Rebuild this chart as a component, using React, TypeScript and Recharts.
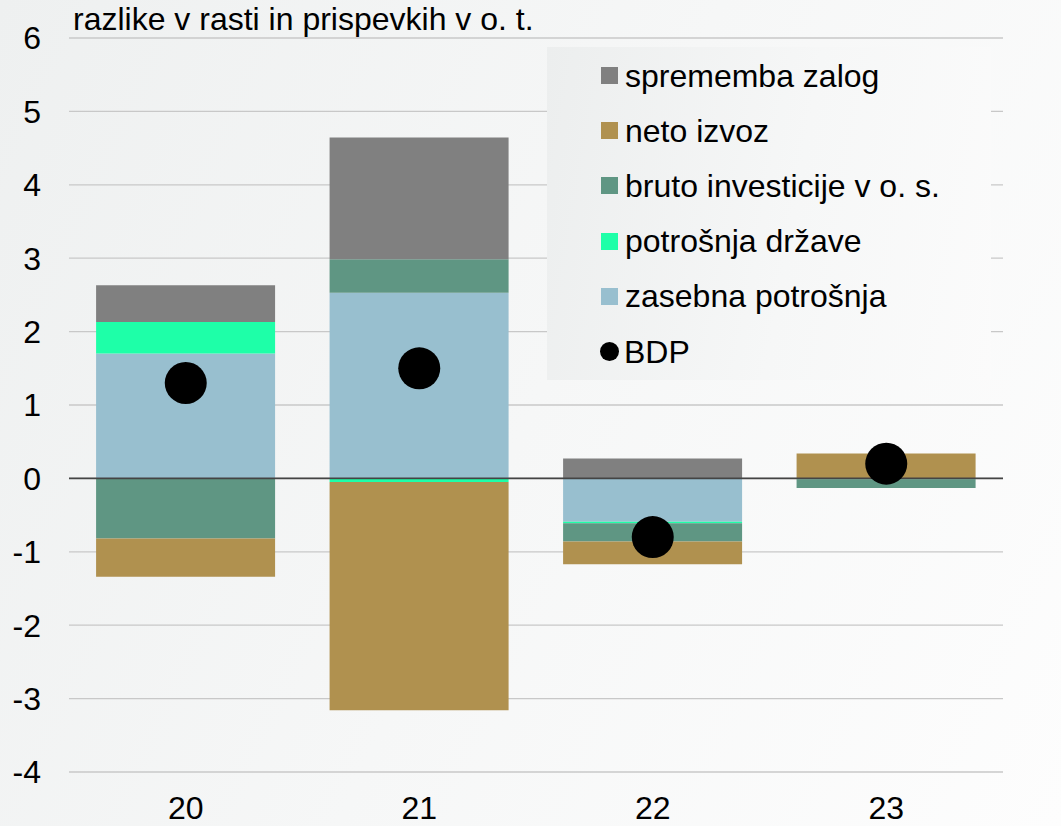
import React from 'react';
import {
  ComposedChart,
  Bar,
  Line,
  XAxis,
  YAxis,
  CartesianGrid,
  ReferenceLine,
  Legend,
} from 'recharts';

const categories = ['20', '21', '22', '23'];
const zasebnaPotrosnja = [1.7, 2.53, -0.59, 0];
const potrosnjaDrzave = [0.43, -0.05, -0.02, -0.01];
const brutoInvesticije = [-0.82, 0.455, -0.25, -0.12];
const netoIzvoz = [-0.52, -3.11, -0.31, 0.34];
const spremembaZalog = [0.5, 1.66, 0.27, 0];
const bdp = [1.3, 1.5, -0.8, 0.2];
const yTicks = [-4, -3, -2, -1, 0, 1, 2, 3, 4, 5, 6];

const titleText = 'razlike v rasti in prispevkih v o. t.';

const seriesNames = {
  zasebna: 'zasebna potrošnja',
  drzava: 'potrošnja države',
  investicije: 'bruto investicije v o. s.',
  izvoz: 'neto izvoz',
  zaloge: 'sprememba zalog',
  bdp: 'BDP',
};

const colors = {
  zasebna: '#98BFCF',
  drzava: '#1EFFA8',
  investicije: '#5F9683',
  izvoz: '#B0914F',
  zaloge: '#808080',
  bdp: '#000000',
};

const data = categories.map((c, i) => ({
  cat: c,
  zasebna: zasebnaPotrosnja[i],
  drzava: potrosnjaDrzave[i],
  investicije: brutoInvesticije[i],
  izvoz: netoIzvoz[i],
  zaloge: spremembaZalog[i],
  bdp: bdp[i],
}));

const legendOrder: (keyof typeof seriesNames)[] = ['zaloge', 'izvoz', 'investicije', 'drzava', 'zasebna', 'bdp'];

const FONT = '"Liberation Sans", Arial, Helvetica, sans-serif';
const FS = 32;

const LegendBox = () => (
  <div
    style={{
      width: 444,
      height: 333,
      boxSizing: 'border-box',
      background: 'linear-gradient(100deg, #eceeee 0%, #f6f7f7 55%, #fbfbfb 100%)',
      paddingTop: 1,
      fontFamily: FONT,
    }}
  >
    {legendOrder.map((k) => (
      <div
        key={k}
        style={{
          height: 55.2,
          display: 'flex',
          alignItems: 'center',
        }}
      >
        <div style={{ width: 54 }} />
        {k === 'bdp' ? (
          <div style={{ width: 19, height: 19, borderRadius: '50%', background: colors[k], marginLeft: -1, marginRight: 5 }} />
        ) : (
          <div style={{ width: 17, height: 17, background: colors[k], marginRight: 7 }} />
        )}
        <span style={{ fontSize: FS, color: '#000', lineHeight: 1 }}>{seriesNames[k]}</span>
      </div>
    ))}
  </div>
);

export default function App() {
  return (
    <div
      style={{
        position: 'absolute',
        left: 0,
        top: 0,
        width: 1061,
        height: 826,
        background: 'linear-gradient(115deg, #eef0f0 0%, #f6f7f7 50%, #fdfdfd 100%)',
        fontFamily: FONT,
      }}
    >
      <ComposedChart
        width={1061}
        height={826}
        data={data}
        stackOffset="sign"
        margin={{ top: 38, right: 0, bottom: 0, left: 0 }}
        barCategoryGap="11.6%"
      >
        <CartesianGrid vertical={false} yAxisId="left" stroke="#c8c8c8" strokeWidth={1.3} />
        <XAxis
          dataKey="cat"
          axisLine={false}
          tickLine={false}
          tickSize={0}
          tickMargin={24}
          height={54}
          interval={0}
          tick={{ fontSize: FS, fill: '#000', fontFamily: FONT }}
        />
        <YAxis
          yAxisId="left"
          domain={[-4, 6]}
          ticks={yTicks}
          width={69}
          axisLine={false}
          tickLine={false}
          tickSize={0}
          tickMargin={28}
          interval={0}
          tick={{ fontSize: FS, fill: '#000', fontFamily: FONT }}
        />
        <YAxis
          yAxisId="right"
          orientation="right"
          domain={[-4, 6]}
          ticks={yTicks}
          width={58}
          axisLine={false}
          tickLine={false}
          tickSize={0}
          tickMargin={27}
          interval={0}
          tick={{ fontSize: FS, fill: '#000', fontFamily: FONT }}
        />
        <Bar yAxisId="left" dataKey="zasebna" name={seriesNames.zasebna} stackId="s" fill={colors.zasebna} isAnimationActive={false} />
        <Bar yAxisId="left" dataKey="drzava" name={seriesNames.drzava} stackId="s" fill={colors.drzava} isAnimationActive={false} />
        <Bar yAxisId="left" dataKey="investicije" name={seriesNames.investicije} stackId="s" fill={colors.investicije} isAnimationActive={false} />
        <Bar yAxisId="left" dataKey="izvoz" name={seriesNames.izvoz} stackId="s" fill={colors.izvoz} isAnimationActive={false} />
        <Bar yAxisId="left" dataKey="zaloge" name={seriesNames.zaloge} stackId="s" fill={colors.zaloge} isAnimationActive={false} />
        <ReferenceLine yAxisId="left" y={0} stroke="#444444" strokeWidth={1.6} />
        <Line
          yAxisId="left"
          dataKey="bdp"
          name={seriesNames.bdp}
          stroke="none"
          dot={{ r: 21, fill: '#000', stroke: '#000', strokeWidth: 0 }}
          activeDot={false}
          isAnimationActive={false}
        />
        <Legend
          layout="vertical"
          align="center"
          verticalAlign="middle"
          content={<LegendBox />}
          wrapperStyle={{ position: 'absolute', left: 547, top: 47, width: 444, height: 333 }}
        />
        <text x={73} y={30} fontSize={FS} fill="#000" fontFamily={FONT}>
          {titleText}
        </text>
      </ComposedChart>
    </div>
  );
}
